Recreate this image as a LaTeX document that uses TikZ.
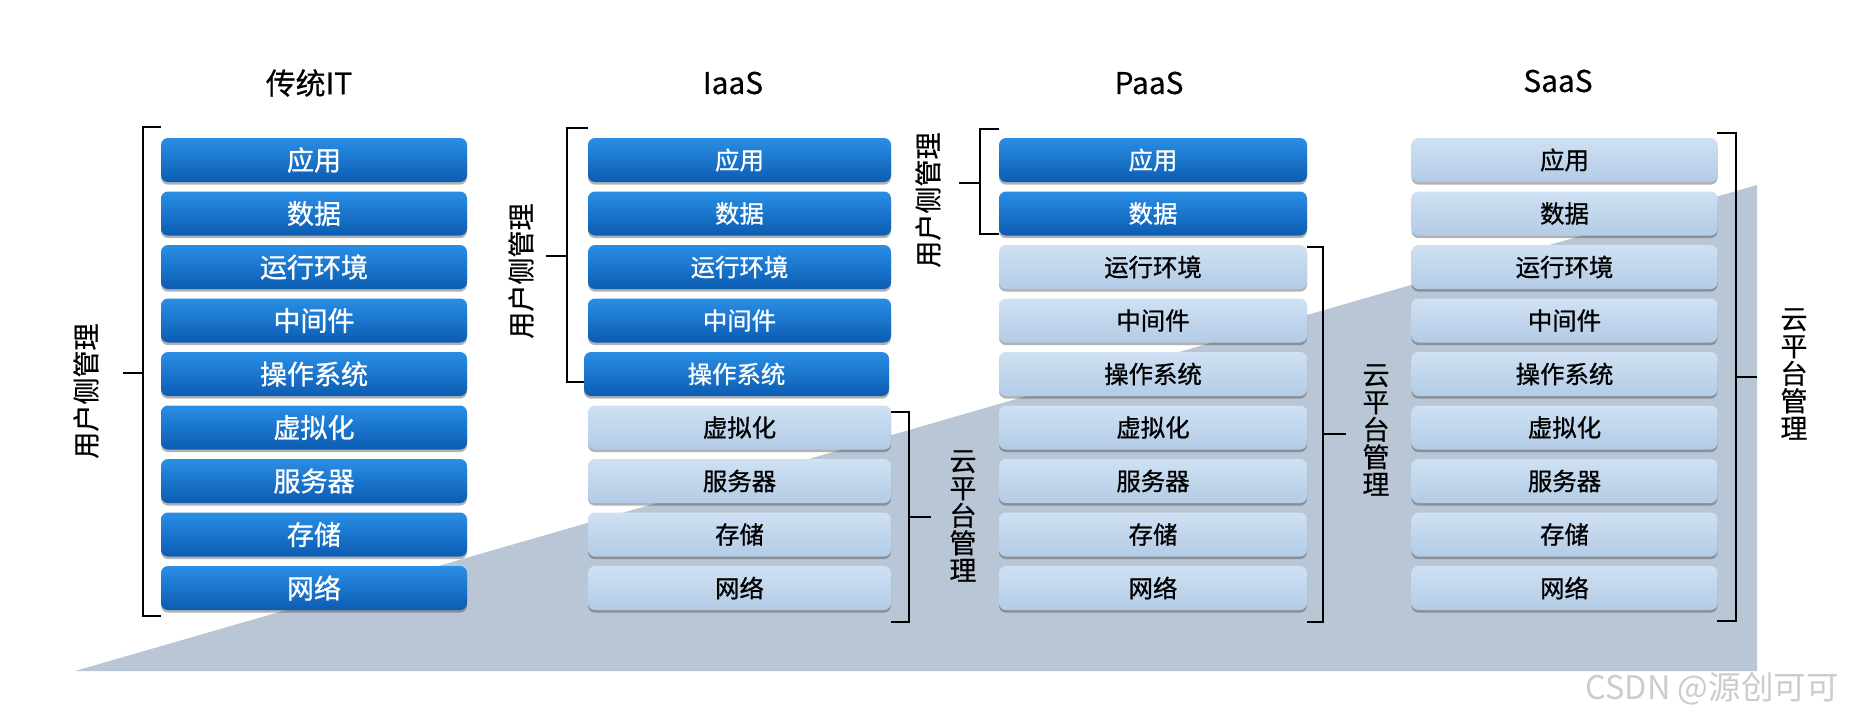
\documentclass[tikz,border=0pt]{standalone}
\usepackage{fontspec}
\setmainfont{Noto Sans CJK SC}
\newfontfamily\medfont{Noto Sans CJK SC}[FakeBold=0.9]
\newfontfamily\semifont{Noto Sans CJK SC}[FakeBold=0.5]
\usetikzlibrary{shadows}
\definecolor{dbtop}{HTML}{2A8EE5}
\definecolor{dbbot}{HTML}{0B5CB2}
\definecolor{lbtop}{HTML}{CFE1F3}
\definecolor{lbbot}{HTML}{B3CBE6}
\definecolor{tri}{HTML}{B8C6D5}
\newlength\pxu \setlength\pxu{0.02cm}
\newcommand\fsbig{\medfont\fontsize{15.4}{18}\selectfont}
\newcommand\fssmall{\medfont\fontsize{13.9}{16}\selectfont}
\newcommand\fstitle{\semifont\fontsize{17}{20}\selectfont}
\newcommand\fslab{\semifont\fontsize{15.4}{15.6}\selectfont}
\def\rows{1/应用,2/数据,3/运行环境,4/中间件,5/操作系统,6/虚拟化,7/服务器,8/存储,9/网络}
\tikzset{
  layer/.style={rounded corners=7\pxu, minimum height=44\pxu, inner sep=0pt,
    drop shadow={shadow xshift=0pt, shadow yshift=-1.5pt, opacity=0.4, fill=black!75}},
  darkbox/.style={layer, top color=dbtop, bottom color=dbbot, text=white},
  lightbox/.style={layer, top color=lbtop, bottom color=lbbot, text=black},
  brk/.style={line width=1.6pt, black},
  title/.style={font=\fstitle, text=black},
  rotlab/.style={font=\fslab, rotate=90, inner sep=0pt},
  stacklab/.style={font=\fslab, align=center, inner sep=0pt},
}
\begin{document}
\begin{tikzpicture}[x=0.02cm, y=-0.02cm]
\useasboundingbox (0,0) rectangle (1868,724);
\fill[white] (0,0) rectangle (1868,724);
% background wedge
\fill[tri] (75,671) -- (1757,671) -- (1757,185) -- cycle;

% titles
\node[title] (t1) at (309,83) {传统IT};
\node[title] (t2) at (733,83) {IaaS};
\node[title] (t3) at (1149,83) {PaaS};
\node[title] (t4) at (1558,81) {SaaS};

% column 1: traditional IT
\foreach \i/\t in \rows {
  \node[darkbox, font=\fsbig, minimum width=306\pxu] (a\i) at (314,{160+53.5*(\i-1)}) {\t};
}
% column 2: IaaS
\foreach \i/\t in \rows {
  \ifnum\i<5
    \node[darkbox, font=\fssmall, minimum width=303\pxu] (b\i) at (739.5,{160+53.5*(\i-1)}) {\t};
  \else\ifnum\i=5
    \node[darkbox, font=\fssmall, minimum width=305\pxu] (b\i) at (736.5,{160+53.5*(\i-1)}) {\t};
  \else
    \node[lightbox, font=\fssmall, minimum width=303\pxu] (b\i) at (739.5,{160+53.5*(\i-1)}) {\t};
  \fi\fi
}
% column 3: PaaS
\foreach \i/\t in \rows {
  \ifnum\i<3
    \node[darkbox, font=\fssmall, minimum width=308\pxu] (c\i) at (1153,{160+53.5*(\i-1)}) {\t};
  \else
    \node[lightbox, font=\fssmall, minimum width=308\pxu] (c\i) at (1153,{160+53.5*(\i-1)}) {\t};
  \fi
}
% column 4: SaaS
\foreach \i/\t in \rows {
  \node[lightbox, font=\fssmall, minimum width=306\pxu] (d\i) at (1564.5,{160+53.5*(\i-1)}) {\t};
}

% brackets
\draw[brk] (161,127) -- (143,127) -- (143,616) -- (161,616);
\draw[brk] (143,373) -- (123,373);
\node[rotlab] (l1) at (86,391) {用户侧管理};

\draw[brk] (588,128) -- (567,128) -- (567,382) -- (584,382);
\draw[brk] (567,256) -- (546,256);
\node[rotlab] (l2) at (521,271) {用户侧管理};

\draw[brk] (891,412) -- (909,412) -- (909,622) -- (891,622);
\draw[brk] (909,517) -- (931,517);
\node[stacklab] (l3) at (963,516) {云\\平\\台\\管\\理};

\draw[brk] (999,129) -- (980,129) -- (980,234) -- (999,234);
\draw[brk] (980,183) -- (959,183);
\node[rotlab] (l4) at (928,200) {用户侧管理};

\draw[brk] (1307,247) -- (1323,247) -- (1323,622) -- (1307,622);
\draw[brk] (1323,434) -- (1346,434);
\node[stacklab] (l5) at (1376,430) {云\\平\\台\\管\\理};

\draw[brk] (1717,133) -- (1736,133) -- (1736,621) -- (1717,621);
\draw[brk] (1736,377) -- (1757,377);
\node[stacklab] (l6) at (1794,374) {云\\平\\台\\管\\理};

% watermark
\node[font=\fontsize{18.5}{20}\selectfont, text=gray!40] (wm) at (1712,689) {CSDN @源创可可};
\end{tikzpicture}
\end{document}
